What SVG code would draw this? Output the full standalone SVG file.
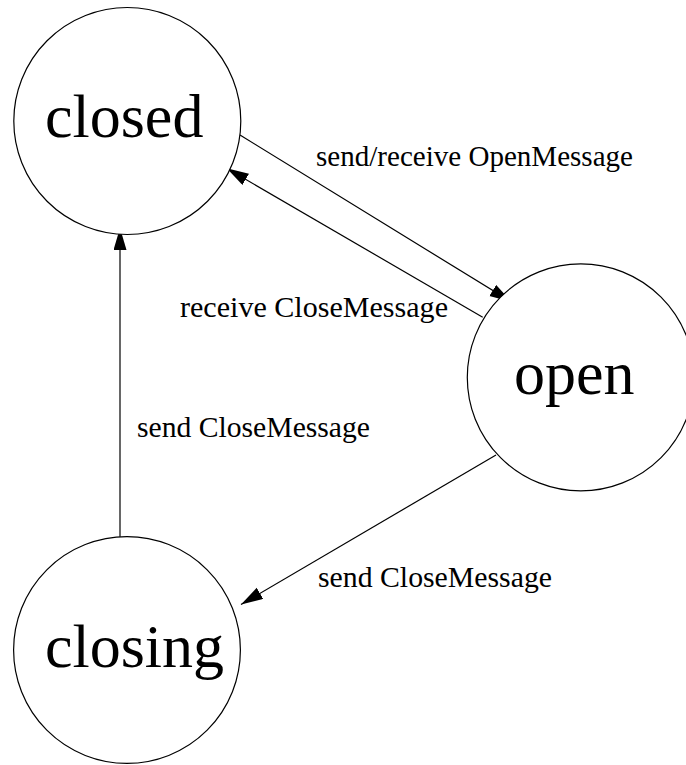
<svg xmlns="http://www.w3.org/2000/svg" width="686" height="765" viewBox="0 0 686 765">
<style>
.node{fill:#fff;stroke:#000;stroke-width:1.2}
.big{font-family:"Liberation Serif","Times New Roman",serif;font-size:62px;fill:#000}
.lbl{font-family:"Liberation Serif","Times New Roman",serif;font-size:29.5px;fill:#000}
.edge{fill:none;stroke:#000;stroke-width:1.2;marker-end:url(#arrow)}
</style>
<defs>
<marker id="arrow" markerUnits="userSpaceOnUse" markerWidth="24" markerHeight="14" refX="22" refY="6.5" orient="auto">
<path d="M0,0 L22,6.5 L0,13 Z" fill="#000"/>
</marker>
</defs>
<rect width="686" height="765" fill="#fff"/>
<g id="connectors">
<line class="edge" x1="240" y1="135" x2="511.5" y2="302"/>
<line class="edge" x1="482.7" y1="317.3" x2="226.7" y2="168.3"/>
<line class="edge" x1="120" y1="543" x2="120" y2="228"/>
<line class="edge" x1="496" y1="455" x2="241" y2="604.5"/>
</g>
<g id="node-closed">
<circle class="node" cx="127.3" cy="121" r="113.5"/>
<text class="big" x="45" y="137">closed</text>
</g>
<g id="node-open">
<circle class="node" cx="580.8" cy="377.4" r="113.5"/>
<text class="big" x="514" y="394">open</text>
</g>
<g id="node-closing">
<circle class="node" cx="127" cy="650" r="113.4"/>
<text class="big" x="45" y="666.5">closing</text>
</g>
<g id="labels">
<text class="lbl" x="316" y="166" textLength="317" lengthAdjust="spacingAndGlyphs">send/receive OpenMessage</text>
<text class="lbl" x="180" y="317" textLength="268" lengthAdjust="spacingAndGlyphs">receive CloseMessage</text>
<text class="lbl" x="137" y="437" textLength="233" lengthAdjust="spacingAndGlyphs">send CloseMessage</text>
<text class="lbl" x="318" y="587" textLength="234" lengthAdjust="spacingAndGlyphs">send CloseMessage</text>
</g>
</svg>
